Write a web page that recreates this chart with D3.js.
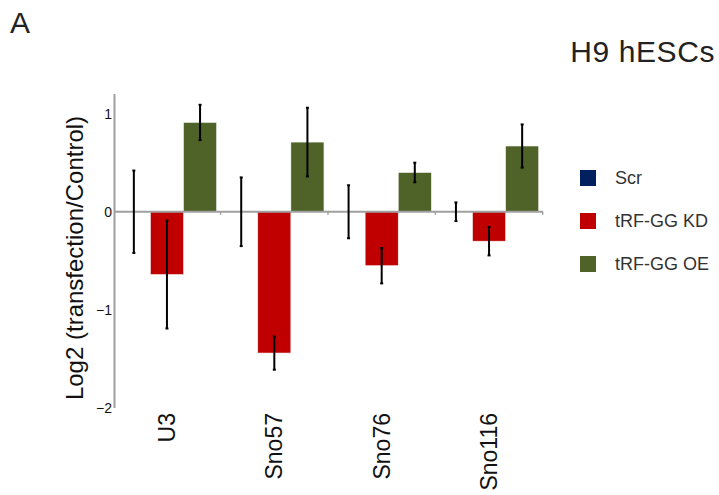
<!DOCTYPE html>
<html>
<head>
<meta charset="utf-8">
<script src="https://cdn.jsdelivr.net/npm/d3@7"></script>
<style>
  html, body { margin: 0; padding: 0; background: #fff; }
  svg { display: block; font-family: "Liberation Sans", Arial, sans-serif; }
</style>
</head>
<body>
<svg id="chart" width="719" height="495"></svg>
<script>
// Categories and series
const categories = ["U3", "Sno57", "Sno76", "Sno116"];
const seriesNames = ["Scr", "tRF-GG KD", "tRF-GG OE"];
const seriesColors = ["#002060", "#c00000", "#4f6228"];

// Log2 fold change per category, one array per series
const scrValues = [0, 0, 0, 0];
const kdValues  = [-0.64, -1.44, -0.55, -0.30];
const oeValues  = [0.91, 0.71, 0.40, 0.67];

// Error bar half-widths
const scrErrors = [0.42, 0.35, 0.27, 0.095];
const kdErrors  = [0.55, 0.17, 0.18, 0.145];
const oeErrors  = [0.18, 0.35, 0.10, 0.22];

const yTicks = [1, 0, -1, -2];

const values = [scrValues, kdValues, oeValues];
const errors = [scrErrors, kdErrors, oeErrors];

const svg = d3.select("#chart");

const x0 = d3.scaleBand()
  .domain(categories)
  .range([113, 543])
  .paddingInner(0.075)
  .paddingOuter(0.04);

const x1 = d3.scaleBand()
  .domain(seriesNames)
  .range([0, x0.bandwidth()])
  .padding(0);

const y = d3.scaleLinear()
  .domain([-2, 1.2])
  .range([408, 94]);

// Panel letter and title
svg.append("text")
  .attr("x", 10).attr("y", 33)
  .attr("font-size", 30).attr("fill", "#222")
  .text("A");

svg.append("text")
  .attr("x", 715).attr("y", 62)
  .attr("text-anchor", "end")
  .attr("font-size", 30).attr("fill", "#222")
  .attr("letter-spacing", 0.6)
  .text("H9 hESCs");

// Bars
const rows = [];
categories.forEach((c, i) => {
  seriesNames.forEach((s, j) => {
    rows.push({ cat: c, series: s, value: values[j][i], err: errors[j][i], color: seriesColors[j] });
  });
});

svg.append("g").selectAll("rect")
  .data(rows)
  .join("rect")
  .attr("x", d => x0(d.cat) + x1(d.series))
  .attr("width", x1.bandwidth())
  .attr("y", d => y(Math.max(0, d.value)))
  .attr("height", d => Math.abs(y(d.value) - y(0)))
  .attr("fill", d => d.color)
  .attr("stroke", "#f4f4f4")
  .attr("stroke-width", 0.6);

// Y axis line
const axisG = svg.append("g");
axisG.append("line")
  .attr("x1", 114.5).attr("x2", 114.5)
  .attr("y1", y(1.2)).attr("y2", y(-2))
  .attr("stroke", "#a0a0a0").attr("stroke-width", 2);

axisG.selectAll("text")
  .data(yTicks)
  .join("text")
  .attr("x", 112)
  .attr("y", d => y(d))
  .attr("dy", "0.35em")
  .attr("text-anchor", "end")
  .attr("font-size", 14)
  .attr("fill", "#111")
  .text(d => d3.format("d")(d));

// Zero line with small marks at group boundaries
svg.append("line")
  .attr("x1", 114).attr("x2", 543)
  .attr("y1", y(0)).attr("y2", y(0))
  .attr("stroke", "#a0a0a0").attr("stroke-width", 2);

svg.append("g").selectAll("line")
  .data(categories)
  .join("line")
  .attr("x1", d => x0(d) + x0.bandwidth() + 4)
  .attr("x2", d => x0(d) + x0.bandwidth() + 4)
  .attr("y1", y(0)).attr("y2", y(0) + 3)
  .attr("stroke", "#a0a0a0").attr("stroke-width", 1.5);

// Error bars
const eb = svg.append("g").selectAll("g")
  .data(rows)
  .join("g")
  .attr("transform", d => `translate(${x0(d.cat) + x1(d.series) + x1.bandwidth() / 2},0)`);

eb.append("line")
  .attr("y1", d => y(d.value + d.err))
  .attr("y2", d => y(d.value - d.err))
  .attr("stroke", "#000").attr("stroke-width", 2);

eb.append("line")
  .attr("x1", -1.5).attr("x2", 1.5)
  .attr("y1", d => y(d.value + d.err)).attr("y2", d => y(d.value + d.err))
  .attr("stroke", "#000").attr("stroke-width", 2);

eb.append("line")
  .attr("x1", -1.5).attr("x2", 1.5)
  .attr("y1", d => y(d.value - d.err)).attr("y2", d => y(d.value - d.err))
  .attr("stroke", "#000").attr("stroke-width", 2);

// Category labels, rotated
svg.append("g").selectAll("text")
  .data(categories)
  .join("text")
  .attr("transform", d => `translate(${x0(d) + x0.bandwidth() / 2 + 8},413) rotate(-90)`)
  .attr("text-anchor", "end")
  .attr("font-size", 23)
  .attr("fill", "#111")
  .text(d => d);

// Y axis title
svg.append("text")
  .attr("transform", `translate(83,258) rotate(-90)`)
  .attr("text-anchor", "middle")
  .attr("font-size", 24)
  .attr("fill", "#111")
  .text("Log2 (transfection/Control)");

// Legend
const legend = svg.append("g").selectAll("g")
  .data(seriesNames)
  .join("g")
  .attr("transform", (d, i) => `translate(580,${178 + i * 43})`);

legend.append("rect")
  .attr("x", 0).attr("y", -8)
  .attr("width", 16).attr("height", 16)
  .attr("fill", (d, i) => seriesColors[i]);

legend.append("text")
  .attr("x", 35).attr("y", 0)
  .attr("dy", "0.35em")
  .attr("font-size", 18)
  .attr("fill", "#333")
  .text(d => d);
</script>
</body>
</html>
